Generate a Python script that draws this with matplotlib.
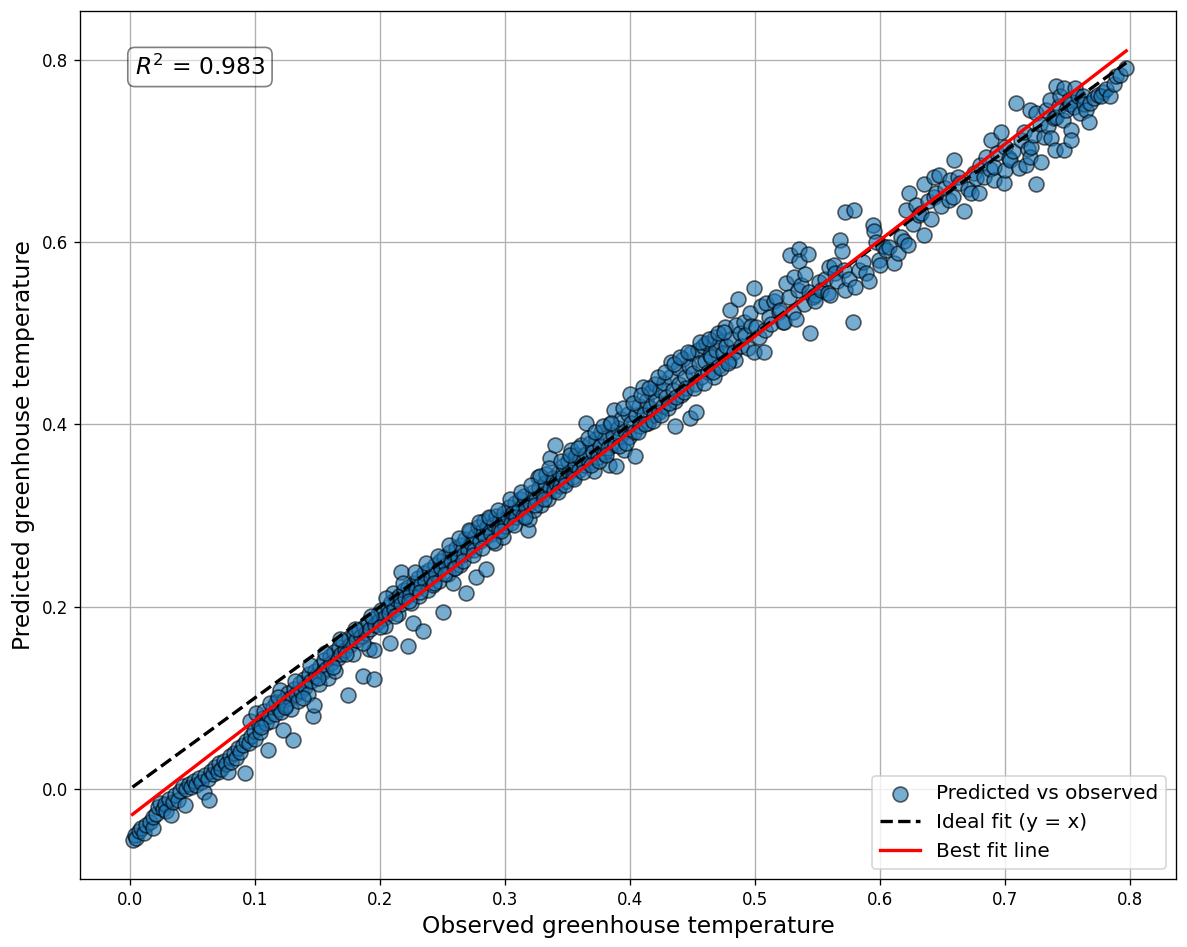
import numpy as np
import matplotlib.pyplot as plt

# observed / predicted greenhouse temperature (normalised units)
obs_a = [0.002, 0.004, 0.005, 0.007, 0.009, 0.011, 0.013, 0.016, 0.018, 0.018, 0.021, 0.022, 0.024, 0.026, 0.028,
         0.029, 0.031, 0.033, 0.034, 0.036, 0.038, 0.040, 0.042, 0.044, 0.045, 0.047, 0.049, 0.051, 0.053, 0.055,
         0.057, 0.059, 0.060, 0.062, 0.063, 0.065, 0.066, 0.068, 0.070, 0.071, 0.073, 0.075, 0.077, 0.078, 0.080,
         0.081, 0.083, 0.085, 0.086, 0.088, 0.090, 0.092, 0.093, 0.095, 0.096, 0.097, 0.099, 0.100]
pred_a = [-0.056, -0.050, -0.054, -0.046, -0.043, -0.048, -0.040, -0.036, -0.043, -0.031, -0.027, -0.020, -0.015, -0.022, -0.017,
          -0.024, -0.011, -0.029, -0.014, -0.007, -0.012, -0.002, 0.003, -0.018, 0.000, 0.006, 0.002, 0.009, 0.004, 0.012,
          0.008, -0.003, 0.015, 0.011, -0.012, 0.020, 0.016, 0.024, 0.019, 0.028, 0.022, 0.031, 0.027, 0.019, 0.036,
          0.030, 0.040, 0.034, 0.045, 0.041, 0.048, 0.018, 0.053, 0.050, 0.075, 0.058, 0.064, 0.055]

obs_b = [0.101, 0.103, 0.104, 0.106, 0.107, 0.109, 0.110, 0.111, 0.113, 0.114, 0.116, 0.117, 0.119, 0.120, 0.121,
         0.122, 0.123, 0.125, 0.126, 0.128, 0.129, 0.130, 0.131, 0.133, 0.134, 0.136, 0.137, 0.139, 0.140, 0.142,
         0.143, 0.145, 0.146, 0.147, 0.148, 0.149, 0.151, 0.152, 0.154, 0.155, 0.157, 0.158, 0.160, 0.161, 0.163,
         0.164, 0.166, 0.167, 0.169, 0.170, 0.172, 0.174, 0.175, 0.176, 0.178, 0.179, 0.181, 0.183, 0.185, 0.186,
         0.187, 0.189, 0.190, 0.191, 0.192, 0.194, 0.195, 0.195, 0.196, 0.198, 0.199]
pred_b = [0.083, 0.070, 0.062, 0.078, 0.086, 0.072, 0.043, 0.080, 0.075, 0.090, 0.082, 0.096, 0.088, 0.109, 0.084,
          0.065, 0.098, 0.092, 0.105, 0.100, 0.088, 0.054, 0.110, 0.104, 0.097, 0.116, 0.108, 0.121, 0.112, 0.104,
          0.126, 0.118, 0.080, 0.092, 0.130, 0.124, 0.115, 0.135, 0.128, 0.142, 0.132, 0.122, 0.146, 0.138, 0.150,
          0.130, 0.144, 0.156, 0.148, 0.162, 0.152, 0.103, 0.166, 0.158, 0.148, 0.170, 0.163, 0.174, 0.168, 0.124,
          0.178, 0.171, 0.183, 0.154, 0.176, 0.186, 0.121, 0.152, 0.180, 0.192, 0.184]

obs_c = [0.201, 0.203, 0.204, 0.206, 0.207, 0.208, 0.209, 0.210, 0.211, 0.213, 0.214, 0.215, 0.217, 0.217, 0.219,
         0.220, 0.222, 0.222, 0.224, 0.225, 0.226, 0.227, 0.229, 0.230, 0.231, 0.233, 0.234, 0.235, 0.236, 0.238,
         0.239, 0.241, 0.242, 0.244, 0.245, 0.247, 0.248, 0.249, 0.250, 0.251, 0.253, 0.254, 0.256, 0.257, 0.258,
         0.259, 0.261, 0.262, 0.264, 0.265, 0.267, 0.268, 0.269, 0.270, 0.272, 0.273, 0.275, 0.276, 0.277, 0.278,
         0.280, 0.281, 0.283, 0.284, 0.285, 0.286, 0.288, 0.289, 0.291, 0.292, 0.293, 0.295, 0.296, 0.298, 0.299]
pred_c = [0.196, 0.188, 0.179, 0.200, 0.193, 0.160, 0.205, 0.215, 0.198, 0.208, 0.192, 0.212, 0.238, 0.203, 0.218,
          0.210, 0.157, 0.222, 0.214, 0.204, 0.182, 0.226, 0.219, 0.232, 0.212, 0.225, 0.173, 0.237, 0.228, 0.218,
          0.240, 0.232, 0.224, 0.246, 0.236, 0.228, 0.250, 0.242, 0.194, 0.255, 0.246, 0.236, 0.260, 0.250, 0.226,
          0.243, 0.264, 0.254, 0.246, 0.268, 0.258, 0.274, 0.215, 0.262, 0.283, 0.270, 0.262, 0.278, 0.233, 0.288,
          0.272, 0.282, 0.294, 0.276, 0.241, 0.287, 0.297, 0.280, 0.291, 0.270, 0.300, 0.284, 0.295, 0.276, 0.303]

obs_d = [0.300, 0.302, 0.303, 0.305, 0.306, 0.308, 0.309, 0.311, 0.312, 0.314, 0.315, 0.317, 0.318, 0.319, 0.320,
         0.322, 0.323, 0.325, 0.326, 0.327, 0.329, 0.330, 0.332, 0.333, 0.334, 0.336, 0.336, 0.338, 0.339, 0.340,
         0.341, 0.343, 0.344, 0.346, 0.347, 0.349, 0.350, 0.351, 0.353, 0.354, 0.356, 0.357, 0.359, 0.360, 0.361,
         0.363, 0.365, 0.365, 0.367, 0.368, 0.370, 0.371, 0.373, 0.374, 0.376, 0.377, 0.379, 0.380, 0.382, 0.383,
         0.384, 0.386, 0.387, 0.388, 0.389, 0.390, 0.392, 0.393, 0.395, 0.396, 0.398, 0.399]
pred_d = [0.289, 0.298, 0.310, 0.292, 0.303, 0.314, 0.298, 0.307, 0.318, 0.300, 0.322, 0.310, 0.284, 0.296, 0.314,
          0.326, 0.306, 0.318, 0.342, 0.330, 0.312, 0.324, 0.336, 0.346, 0.318, 0.330, 0.363, 0.341, 0.327, 0.378,
          0.336, 0.348, 0.333, 0.344, 0.356, 0.338, 0.360, 0.348, 0.372, 0.342, 0.356, 0.366, 0.350, 0.362, 0.378,
          0.356, 0.402, 0.368, 0.358, 0.380, 0.370, 0.349, 0.384, 0.364, 0.376, 0.392, 0.368, 0.385, 0.374, 0.356,
          0.401, 0.388, 0.416, 0.378, 0.354, 0.396, 0.386, 0.406, 0.372, 0.393, 0.412, 0.386]

obs_e = [0.400, 0.401, 0.403, 0.404, 0.405, 0.407, 0.408, 0.410, 0.411, 0.413, 0.414, 0.416, 0.417, 0.419, 0.420,
         0.421, 0.423, 0.424, 0.426, 0.427, 0.429, 0.430, 0.432, 0.433, 0.434, 0.436, 0.436, 0.438, 0.439, 0.441,
         0.442, 0.444, 0.445, 0.447, 0.448, 0.449, 0.450, 0.452, 0.453, 0.454, 0.455, 0.457, 0.458, 0.460, 0.461,
         0.462, 0.464, 0.465, 0.467, 0.468, 0.469, 0.471, 0.472, 0.474, 0.476, 0.477, 0.479, 0.480, 0.481, 0.483,
         0.484, 0.485, 0.486, 0.488, 0.489, 0.491, 0.492, 0.494, 0.496, 0.497, 0.499, 0.499]
pred_e = [0.434, 0.402, 0.392, 0.365, 0.410, 0.420, 0.398, 0.441, 0.412, 0.426, 0.402, 0.418, 0.436, 0.410, 0.444,
          0.426, 0.414, 0.438, 0.420, 0.446, 0.430, 0.418, 0.452, 0.469, 0.438, 0.398, 0.426, 0.462, 0.444, 0.432,
          0.472, 0.452, 0.440, 0.464, 0.407, 0.478, 0.456, 0.444, 0.414, 0.482, 0.468, 0.452, 0.486, 0.470, 0.489,
          0.458, 0.476, 0.474, 0.452, 0.496, 0.482, 0.464, 0.490, 0.478, 0.507, 0.486, 0.470, 0.526, 0.494, 0.480,
          0.471, 0.509, 0.538, 0.500, 0.486, 0.512, 0.498, 0.484, 0.522, 0.508, 0.480, 0.550]

obs_f = [0.501, 0.503, 0.505, 0.507, 0.508, 0.509, 0.511, 0.513, 0.515, 0.517, 0.519, 0.520, 0.522, 0.523, 0.525,
         0.527, 0.528, 0.530, 0.531, 0.533, 0.534, 0.535, 0.535, 0.537, 0.539, 0.540, 0.542, 0.543, 0.544, 0.546,
         0.548, 0.548, 0.551, 0.553, 0.556, 0.558, 0.559, 0.560, 0.563, 0.564, 0.566, 0.568, 0.570, 0.571, 0.572,
         0.572, 0.575, 0.578, 0.579, 0.580, 0.583, 0.586, 0.589, 0.591, 0.594, 0.595, 0.597, 0.599, 0.600]
pred_f = [0.507, 0.496, 0.530, 0.480, 0.504, 0.533, 0.518, 0.510, 0.535, 0.540, 0.524, 0.526, 0.512, 0.513, 0.555,
          0.540, 0.586, 0.524, 0.562, 0.516, 0.548, 0.593, 0.579, 0.553, 0.532, 0.565, 0.587, 0.545, 0.500, 0.540,
          0.542, 0.535, 0.556, 0.548, 0.560, 0.544, 0.573, 0.542, 0.575, 0.566, 0.557, 0.602, 0.590, 0.570, 0.633,
          0.548, 0.560, 0.512, 0.635, 0.551, 0.570, 0.578, 0.566, 0.558, 0.619, 0.612, 0.600, 0.581, 0.575]

obs_g = [0.602, 0.605, 0.607, 0.611, 0.614, 0.617, 0.619, 0.621, 0.622, 0.623, 0.626, 0.629, 0.631, 0.633, 0.635,
         0.635, 0.638, 0.641, 0.643, 0.643, 0.645, 0.647, 0.649, 0.652, 0.655, 0.656, 0.658, 0.659, 0.662, 0.664,
         0.667, 0.670, 0.673, 0.675, 0.677, 0.679, 0.680, 0.683, 0.685, 0.688, 0.689, 0.691, 0.691, 0.694, 0.697,
         0.699, 0.700, 0.700]
pred_g = [0.596, 0.592, 0.595, 0.577, 0.588, 0.606, 0.601, 0.635, 0.597, 0.654, 0.620, 0.641, 0.630, 0.632, 0.608,
          0.664, 0.645, 0.626, 0.672, 0.650, 0.654, 0.674, 0.640, 0.660, 0.646, 0.668, 0.650, 0.690, 0.672, 0.665,
          0.634, 0.658, 0.654, 0.676, 0.670, 0.654, 0.685, 0.672, 0.694, 0.680, 0.712, 0.668, 0.683, 0.698, 0.721,
          0.665, 0.679, 0.705]

obs_h = [0.703, 0.704, 0.706, 0.709, 0.711, 0.713, 0.715, 0.717, 0.718, 0.720, 0.721, 0.720, 0.723, 0.725, 0.725,
         0.728, 0.729, 0.731, 0.733, 0.734, 0.736, 0.737, 0.739, 0.740, 0.741, 0.741, 0.743, 0.744, 0.746, 0.747,
         0.747, 0.749, 0.751, 0.752, 0.753, 0.753, 0.755, 0.756, 0.758, 0.760, 0.762, 0.763, 0.765, 0.767, 0.768,
         0.771, 0.774, 0.778, 0.777, 0.781, 0.784, 0.787, 0.789, 0.792, 0.797]
pred_h = [0.692, 0.690, 0.700, 0.753, 0.681, 0.712, 0.721, 0.685, 0.702, 0.694, 0.705, 0.745, 0.718, 0.742, 0.664,
          0.730, 0.688, 0.716, 0.745, 0.728, 0.756, 0.714, 0.736, 0.701, 0.771, 0.738, 0.750, 0.760, 0.734, 0.769,
          0.701, 0.745, 0.756, 0.752, 0.723, 0.712, 0.748, 0.769, 0.760, 0.742, 0.760, 0.752, 0.745, 0.732, 0.753,
          0.758, 0.762, 0.765, 0.760, 0.768, 0.760, 0.774, 0.782, 0.784, 0.791]

# extra points widening the dense middle of the band
obs_m = [0.105, 0.112, 0.118, 0.124, 0.132, 0.138, 0.144, 0.150, 0.156, 0.162, 0.168, 0.173, 0.180, 0.186, 0.193,
         0.200, 0.205, 0.212, 0.218, 0.223, 0.228, 0.232, 0.237, 0.243, 0.246, 0.252, 0.255, 0.260, 0.263, 0.266,
         0.271, 0.274, 0.279, 0.282, 0.287, 0.290, 0.294, 0.297, 0.304, 0.307, 0.313, 0.316, 0.321, 0.324, 0.328,
         0.331, 0.335, 0.342, 0.345, 0.348, 0.352, 0.355, 0.358, 0.362, 0.366, 0.369, 0.372, 0.375, 0.378, 0.381,
         0.385, 0.391, 0.394, 0.397, 0.402, 0.406, 0.409, 0.412, 0.415, 0.418, 0.422, 0.425, 0.428, 0.431, 0.435,
         0.437, 0.440, 0.443, 0.446, 0.451, 0.456, 0.459, 0.463, 0.466, 0.470, 0.473, 0.475, 0.478]
pred_m = [0.068, 0.094, 0.101, 0.090, 0.118, 0.100, 0.136, 0.122, 0.149, 0.134, 0.165, 0.148, 0.176, 0.160, 0.190,
          0.178, 0.210, 0.190, 0.226, 0.206, 0.238, 0.216, 0.248, 0.226, 0.256, 0.236, 0.268, 0.242, 0.275, 0.250,
          0.284, 0.257, 0.293, 0.264, 0.298, 0.272, 0.306, 0.283, 0.318, 0.290, 0.326, 0.298, 0.334, 0.312, 0.344,
          0.318, 0.352, 0.326, 0.360, 0.334, 0.366, 0.340, 0.374, 0.348, 0.385, 0.356, 0.392, 0.360, 0.398, 0.366,
          0.402, 0.376, 0.418, 0.380, 0.424, 0.392, 0.432, 0.400, 0.440, 0.404, 0.452, 0.410, 0.458, 0.424, 0.466,
          0.430, 0.474, 0.436, 0.480, 0.440, 0.490, 0.446, 0.494, 0.458, 0.500, 0.462, 0.502, 0.468]

# best fit line (slope, intercept) and the R^2 shown
fit_slope = 1.054
fit_intercept = -0.030
r2_value = 0.983

observed = np.array(obs_a + obs_b + obs_c + obs_d + obs_e + obs_f + obs_g + obs_h + obs_m)
predicted = np.array(pred_a + pred_b + pred_c + pred_d + pred_e + pred_f + pred_g + pred_h + pred_m)

fig = plt.figure(figsize=(1187 / 120, 947 / 120), dpi=120)
ax = fig.add_axes([80 / 1187, 68 / 947, 1096 / 1187, 868 / 947])

ax.scatter(observed, predicted, s=80, alpha=0.6, edgecolors="k", linewidths=1,
           label="Predicted vs observed", zorder=3)

xline = np.array([observed.min(), observed.max()])
ax.plot(xline, xline, "k--", lw=2, label="Ideal fit (y = x)", zorder=4)
ax.plot(xline, fit_slope * xline + fit_intercept, "r-", lw=2, label="Best fit line", zorder=5)

ax.text(0.05, 0.95, f"$R^2$ = {r2_value:.3f}", transform=ax.transAxes, fontsize=14,
        va="top", bbox=dict(boxstyle="round", facecolor="white", alpha=0.5))

ax.set_xlabel("Observed greenhouse temperature", fontsize=14)
ax.set_ylabel("Predicted greenhouse temperature", fontsize=14)
ax.set_xlim(-0.04, 0.8368)
ax.set_ylim(-0.0988, 0.8538)
ax.grid(True)
ax.legend(loc="lower right", fontsize=12)

fig.savefig("out.png", dpi=120)
